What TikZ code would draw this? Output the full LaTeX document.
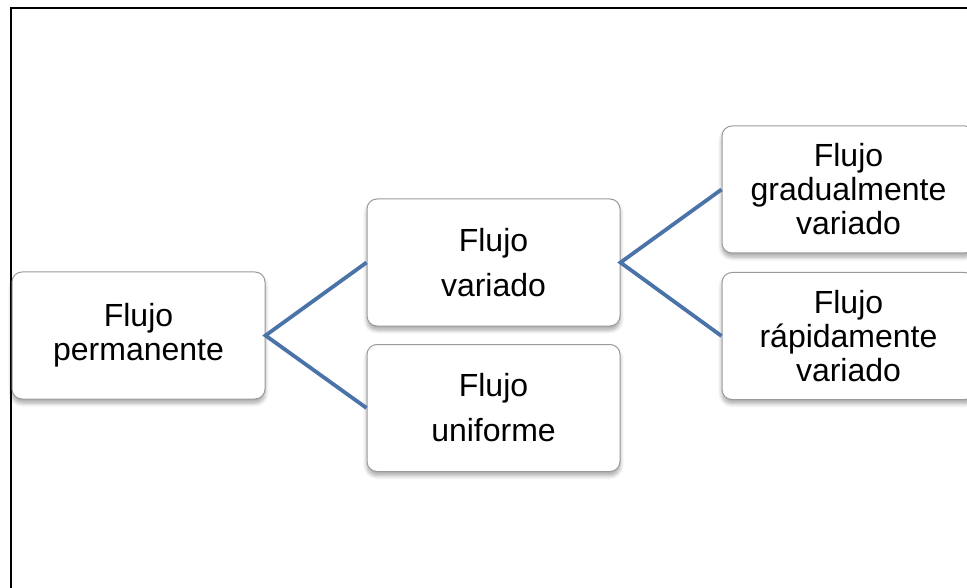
\documentclass[tikz,border=0pt]{standalone}
\usepackage{fontspec}
\setmainfont{Liberation Sans}
\usetikzlibrary{shadows,shadows.blur}
\definecolor{linkblue}{HTML}{4A74A8}
\definecolor{boxborder}{HTML}{9A9A9A}
\tikzset{
  box/.style={draw=boxborder, line width=1pt, fill=white, rounded corners=10pt,
    minimum width=253pt, minimum height=127pt, inner sep=0pt, align=center,
    blur shadow={shadow xshift=0pt, shadow yshift=-4pt, shadow blur steps=6, shadow opacity=35, shadow blur radius=4pt}},
  tight/.style={font=\fontsize{32}{34}\selectfont},
  loose/.style={font=\fontsize{32}{45}\selectfont},
  link/.style={draw=linkblue, line width=3.8pt}
}
\begin{document}
\begin{tikzpicture}[x=1pt,y=-1pt]
\useasboundingbox (0,0) rectangle (967,588);
\clip (0,0) rectangle (967,588);
\draw[line width=2.2pt] (11,620) -- (11,8) -- (1000,8);
\node[box, tight] (perm) at (138.5,335.5) {Flujo\\permanente};
\node[box, loose] (var) at (493.5,262.5) {Flujo\\variado};
\node[box, loose] (uni) at (493.5,408) {Flujo\\uniforme};
\node[box, tight] (grad) at (848.5,189.5) {Flujo\\gradualmente\\variado};
\node[box, tight] (rap) at (848.5,336) {Flujo\\rápidamente\\variado};
\draw[link] (var.west) -- (perm.east) -- (uni.west);
\draw[link] (grad.west) -- (var.east) -- (rap.west);
\end{tikzpicture}
\end{document}
